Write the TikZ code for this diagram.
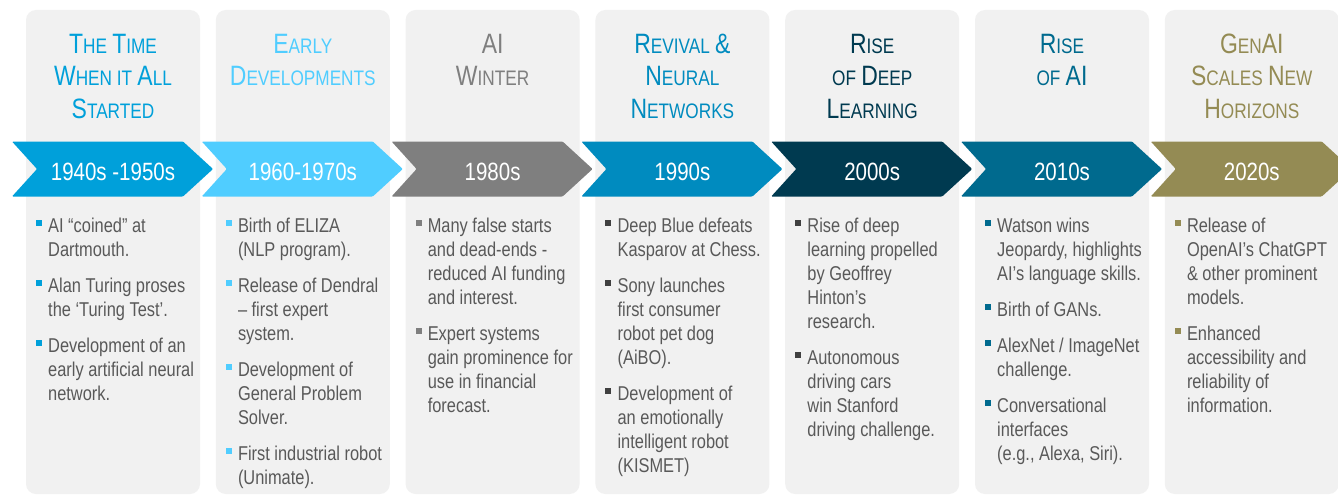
\documentclass[tikz,border=0pt]{standalone}
\usepackage{fontspec}
\newfontfamily\nar[FakeStretch=0.82]{Liberation Sans}
\definecolor{panelbg}{HTML}{F1F1F1}
\definecolor{bodygray}{HTML}{595959}
\definecolor{ca}{HTML}{00A0DA}
\definecolor{cb}{HTML}{50CDFF}
\definecolor{cc}{HTML}{7F7F7F}
\definecolor{cd}{HTML}{008BBF}
\definecolor{ce}{HTML}{003A50}
\definecolor{cf}{HTML}{006A8E}
\definecolor{cg}{HTML}{948B54}
\definecolor{bdark}{HTML}{404040}
\newcounter{lnc}
\newcounter{tlc}
% body line: column, baseline y, text
\newcommand\bline[3]{\stepcounter{lnc}\node[bodytxt] (ln\thelnc) at ({48+189.8*#1},#2) {#3};}
% bullet: column, baseline y, colour
\newcommand\bul[3]{\fill[#3] ({36+189.8*#1},{#2-12}) rectangle ++(6,6);}
% title line: column, baseline y, colour, text
\newcommand\tline[4]{\stepcounter{tlc}\node[titletxt,text=#3] (tl\thetlc) at ({113+189.8*#1},#2) {#4};}
\newcommand\Bg[1]{{\fontsize{28}{32}\selectfont #1}}
\newcommand\Sm[1]{{\fontsize{21}{32}\selectfont #1}}
\tikzset{
  panel/.style={fill=panelbg, rounded corners=10pt},
  bodytxt/.style={anchor=base west, inner sep=0pt, text=bodygray, font=\nar\fontsize{20}{24}\selectfont},
  titletxt/.style={anchor=base, inner sep=0pt, font=\nar\fontsize{23}{32}\selectfont},
  yeartxt/.style={anchor=base, inner sep=0pt, text=white, font=\nar\fontsize{25}{30}\selectfont},
}
\begin{document}
\begin{tikzpicture}[x=1pt,y=-1pt]
\useasboundingbox (0,0) rectangle (1338,495);
\clip (0,0) rectangle (1338,495);
\fill[white] (0,0) rectangle (1338,495);
% panels
\foreach \i in {0,...,6} {
  \fill[panel] ({26+189.8*\i},10) rectangle ++(174,484);
}
% chevrons
\foreach \i/\c in {0/ca,1/cb,2/cc,3/cd,4/ce,5/cf,6/cg} {
  \fill[\c, rounded corners=1pt] ({12+189.8*\i},141.5) -- ++(171,0) -- ++(30,27.5) -- ++(-30,27.5) -- ++(-171,0) -- ++(25,-27.5) -- cycle;
}
% years
\node[yeartxt] (y1) at ({113+189.8*0},180) {1940s -1950s};
\node[yeartxt] (y2) at ({113+189.8*1},180) {1960-1970s};
\node[yeartxt] (y3) at ({113+189.8*2},180) {1980s};
\node[yeartxt] (y4) at ({113+189.8*3},180) {1990s};
\node[yeartxt] (y5) at ({113+189.8*4},180) {2000s};
\node[yeartxt] (y6) at ({113+189.8*5},180) {2010s};
\node[yeartxt] (y7) at ({113+189.8*6},180) {2020s};
% titles
\tline{0}{53}{ca}{\Bg{T}\Sm{HE} \Bg{T}\Sm{IME}}
\tline{0}{85.5}{ca}{\Bg{W}\Sm{HEN IT} \Bg{A}\Sm{LL}}
\tline{0}{118}{ca}{\Bg{S}\Sm{TARTED}}
\tline{1}{53}{cb}{\Bg{E}\Sm{ARLY}}
\tline{1}{85.5}{cb}{\Bg{D}\Sm{EVELOPMENTS}}
\tline{2}{53}{cc}{\Bg{AI}}
\tline{2}{85.5}{cc}{\Bg{W}\Sm{INTER}}
\tline{3}{53}{cd}{\Bg{R}\Sm{EVIVAL} \Bg{\&}}
\tline{3}{85.5}{cd}{\Bg{N}\Sm{EURAL}}
\tline{3}{118}{cd}{\Bg{N}\Sm{ETWORKS}}
\tline{4}{53}{ce}{\Bg{R}\Sm{ISE}}
\tline{4}{85.5}{ce}{\Sm{OF} \Bg{D}\Sm{EEP}}
\tline{4}{118}{ce}{\Bg{L}\Sm{EARNING}}
\tline{5}{53}{cf}{\Bg{R}\Sm{ISE}}
\tline{5}{85.5}{cf}{\Sm{OF} \Bg{AI}}
\tline{6}{53}{cg}{\Bg{G}\Sm{EN}\Bg{AI}}
\tline{6}{85.5}{cg}{\Bg{S}\Sm{CALES} \Bg{N}\Sm{EW}}
\tline{6}{118}{cg}{\Bg{H}\Sm{ORIZONS}}
% column 1
\bul{0}{232}{ca}
\bline{0}{232}{AI “coined” at}
\bline{0}{256}{Dartmouth.}
\bul{0}{292}{ca}
\bline{0}{292}{Alan Turing proses}
\bline{0}{316}{the ‘Turing Test’.}
\bul{0}{352}{ca}
\bline{0}{352}{Development of an}
\bline{0}{376}{early artificial neural}
\bline{0}{400}{network.}
% column 2
\bul{1}{232}{cb}
\bline{1}{232}{Birth of ELIZA}
\bline{1}{256}{(NLP program).}
\bul{1}{292}{cb}
\bline{1}{292}{Release of Dendral}
\bline{1}{316}{– first expert}
\bline{1}{340}{system.}
\bul{1}{376}{cb}
\bline{1}{376}{Development of}
\bline{1}{400}{General Problem}
\bline{1}{424}{Solver.}
\bul{1}{460}{cb}
\bline{1}{460}{First industrial robot}
\bline{1}{484}{(Unimate).}
% column 3
\bul{2}{232}{cc}
\bline{2}{232}{Many false starts}
\bline{2}{256}{and dead-ends -}
\bline{2}{280}{reduced AI funding}
\bline{2}{304}{and interest.}
\bul{2}{340}{cc}
\bline{2}{340}{Expert systems}
\bline{2}{364}{gain prominence for}
\bline{2}{388}{use in financial}
\bline{2}{412}{forecast.}
% column 4
\bul{3}{232}{bdark}
\bline{3}{232}{Deep Blue defeats}
\bline{3}{256}{Kasparov at Chess.}
\bul{3}{292}{bdark}
\bline{3}{292}{Sony launches}
\bline{3}{316}{first consumer}
\bline{3}{340}{robot pet dog}
\bline{3}{364}{(AiBO).}
\bul{3}{400}{bdark}
\bline{3}{400}{Development of}
\bline{3}{424}{an emotionally}
\bline{3}{448}{intelligent robot}
\bline{3}{472}{(KISMET)}
% column 5
\bul{4}{232}{bdark}
\bline{4}{232}{Rise of deep}
\bline{4}{256}{learning propelled}
\bline{4}{280}{by Geoffrey}
\bline{4}{304}{Hinton’s}
\bline{4}{328}{research.}
\bul{4}{364}{bdark}
\bline{4}{364}{Autonomous}
\bline{4}{388}{driving cars}
\bline{4}{412}{win Stanford}
\bline{4}{436}{driving challenge.}
% column 6
\bul{5}{232}{cf}
\bline{5}{232}{Watson wins}
\bline{5}{256}{Jeopardy, highlights}
\bline{5}{280}{AI’s language skills.}
\bul{5}{316}{cf}
\bline{5}{316}{Birth of GANs.}
\bul{5}{352}{cf}
\bline{5}{352}{AlexNet / ImageNet}
\bline{5}{376}{challenge.}
\bul{5}{412}{cf}
\bline{5}{412}{Conversational}
\bline{5}{436}{interfaces}
\bline{5}{460}{(e.g., Alexa, Siri).}
% column 7
\bul{6}{232}{cg}
\bline{6}{232}{Release of}
\bline{6}{256}{OpenAI’s ChatGPT}
\bline{6}{280}{\& other prominent}
\bline{6}{304}{models.}
\bul{6}{340}{cg}
\bline{6}{340}{Enhanced}
\bline{6}{364}{accessibility and}
\bline{6}{388}{reliability of}
\bline{6}{412}{information.}
\end{tikzpicture}
\end{document}
